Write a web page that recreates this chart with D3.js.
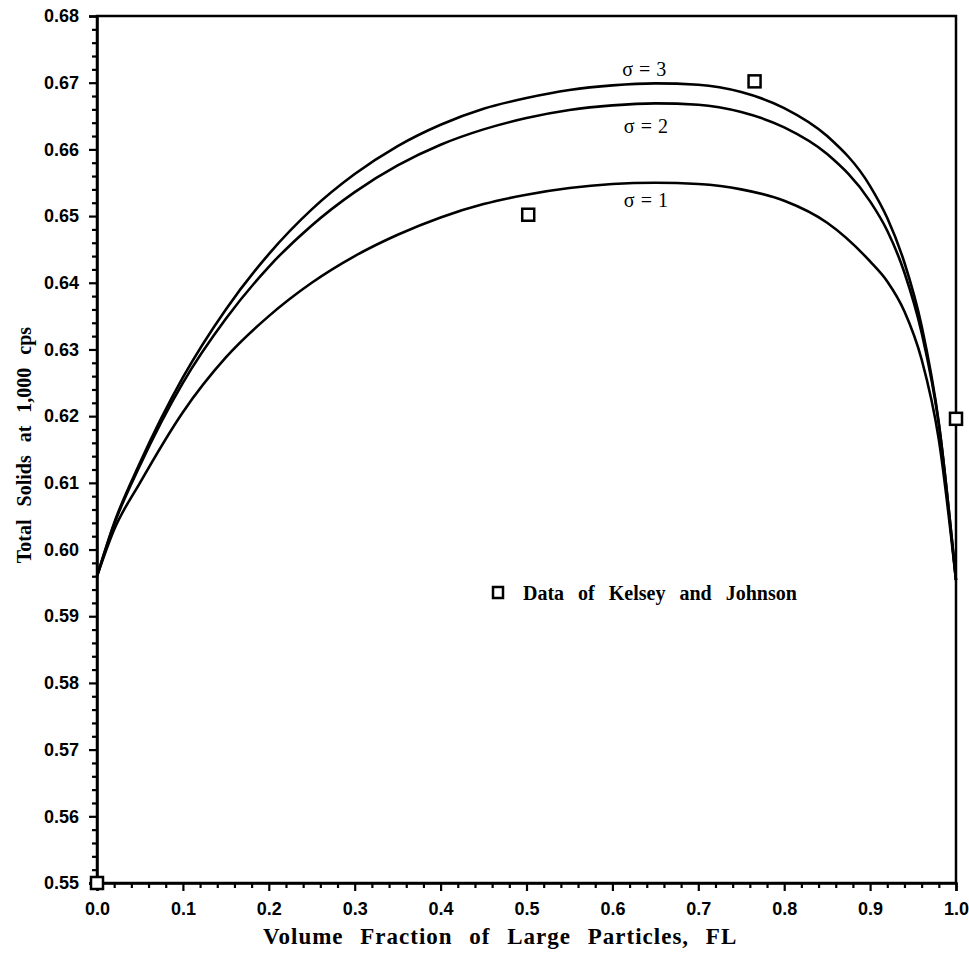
<!DOCTYPE html>
<html><head><meta charset="utf-8">
<script src="https://cdn.jsdelivr.net/npm/d3@7"></script>
<style>
body{margin:0;background:#fff;}
svg{display:block;}
</style></head>
<body><svg id="chart" width="969" height="954"></svg>
<script>
const fl = [0, 0.02, 0.05, 0.1, 0.15, 0.2, 0.25, 0.3, 0.35, 0.4, 0.45, 0.5, 0.55, 0.6, 0.65, 0.7, 0.75, 0.8, 0.85, 0.9, 0.92, 0.94, 0.96, 0.98, 1.0];
const sigma3 = [0.596, 0.6040, 0.6130, 0.6258, 0.6360, 0.6443, 0.6510, 0.6563, 0.6605, 0.6637, 0.6661, 0.6677, 0.6689, 0.6696, 0.6699, 0.6697, 0.6686, 0.6662, 0.6620, 0.6545, 0.6497, 0.6430, 0.6335, 0.6190, 0.5954];
const sigma2 = [0.596, 0.6038, 0.6126, 0.6250, 0.6346, 0.6424, 0.6486, 0.6536, 0.6576, 0.6607, 0.6630, 0.6647, 0.6659, 0.6666, 0.6669, 0.6667, 0.6656, 0.6633, 0.6593, 0.6522, 0.6478, 0.6415, 0.6325, 0.6188, 0.5954];
const sigma1 = [0.596, 0.6030, 0.6100, 0.6206, 0.6288, 0.6350, 0.6400, 0.6440, 0.6472, 0.6498, 0.6518, 0.6532, 0.6542, 0.6548, 0.6550, 0.6548, 0.6540, 0.6523, 0.6490, 0.6432, 0.6402, 0.6357, 0.6285, 0.6165, 0.5954];
const seriesLabels = ["σ = 3", "σ = 2", "σ = 1"];
const labelAt = [[0.637, 0.6710], [0.639, 0.6625], [0.639, 0.6513]];
const dataX = [0.0, 0.502, 0.7655, 1.0];
const dataY = [0.55, 0.6502, 0.6702, 0.6196];
const legendText = "Data of Kelsey and Johnson";
const xTicks = [0, 0.1, 0.2, 0.3, 0.4, 0.5, 0.6, 0.7, 0.8, 0.9, 1.0];
const yTicks = [0.55, 0.56, 0.57, 0.58, 0.59, 0.60, 0.61, 0.62, 0.63, 0.64, 0.65, 0.66, 0.67, 0.68];
const xTitle = "Volume Fraction of Large Particles, FL";
const yTitle = "Total Solids at 1,000 cps";

const svg = d3.select("#chart");
const L = 97, R = 956, T = 16, B = 883;
const x = d3.scaleLinear().domain([0, 1]).range([L, R]);
const y = d3.scaleLinear().domain([0.55, 0.68]).range([B, T]);

const xMinor = d3.range(0, 51).map(i => i * 0.02).filter(v => Math.abs(v * 10 - Math.round(v * 10)) > 1e-6);
const yMinor = d3.range(0, 66).map(i => +(0.55 + i * 0.002).toFixed(3)).filter(v => Math.abs(v * 100 - Math.round(v * 100)) > 1e-6);

svg.append("rect").attr("x", L).attr("y", T).attr("width", R - L).attr("height", B - T)
  .attr("fill", "none").attr("stroke", "#000").attr("stroke-width", 2.5);

const tickFont = "'Liberation Sans', Arial, sans-serif";
const serif = "'Liberation Serif', 'Times New Roman', serif";
const gx = svg.append("g").attr("transform", `translate(0,${B})`)
  .call(d3.axisBottom(x).tickValues(xTicks).tickFormat(d3.format(".1f")).tickSize(8).tickPadding(11));
svg.append("g").attr("transform", `translate(0,${B})`)
  .call(d3.axisBottom(x).tickValues(xMinor).tickFormat("").tickSize(5))
  .call(g => g.select(".domain").remove());
gx.select(".domain").attr("stroke-width", 2.5);
const gy = svg.append("g").attr("transform", `translate(${L},0)`)
  .call(d3.axisLeft(y).tickValues(yTicks).tickFormat(d3.format(".2f")).tickSize(8).tickPadding(10));
svg.append("g").attr("transform", `translate(${L},0)`)
  .call(d3.axisLeft(y).tickValues(yMinor).tickFormat("").tickSize(5))
  .call(g => g.select(".domain").remove());
gy.select(".domain").attr("stroke-width", 2.5);

svg.selectAll(".tick line").attr("stroke-width", 2.2);
svg.selectAll(".tick text").attr("font-family", tickFont).attr("font-size", 18)
  .attr("font-weight", "bold").attr("fill", "#000");

const line = d3.line().x(d => x(d[0])).y(d => y(d[1])).curve(d3.curveMonotoneX);
[sigma3, sigma2, sigma1].forEach(s => {
  svg.append("path").datum(fl.map((f, i) => [f, s[i]]))
    .attr("d", line).attr("fill", "none").attr("stroke", "#000").attr("stroke-width", 2.6);
});

seriesLabels.forEach((t, i) => {
  svg.append("text").attr("x", x(labelAt[i][0])).attr("y", y(labelAt[i][1]))
    .attr("text-anchor", "middle").attr("font-family", serif)
    .attr("font-size", 20).attr("word-spacing", 1).text(t);
});

const sq = 12;
svg.selectAll("rect.pt").data(dataX.map((d, i) => [d, dataY[i]])).enter().append("rect")
  .attr("class", "pt").attr("x", d => x(d[0]) - sq / 2).attr("y", d => y(d[1]) - sq / 2)
  .attr("width", sq).attr("height", sq).attr("fill", "#fff").attr("stroke", "#000").attr("stroke-width", 2.5);

const lgX = 498, lgY = 593;
svg.append("rect").attr("x", lgX - 5).attr("y", lgY - 6).attr("width", 10).attr("height", 11)
  .attr("fill", "#fff").attr("stroke", "#000").attr("stroke-width", 2.5);
svg.append("text").attr("x", 523).attr("y", 600).attr("font-family", serif)
  .attr("font-weight", "bold").attr("font-size", 20).attr("word-spacing", 9)
  .text(legendText);

svg.append("text").attr("x", 263).attr("y", 944)
  .attr("font-family", serif).attr("font-weight", "bold")
  .attr("font-size", 23).attr("word-spacing", 10).attr("letter-spacing", 1).text(xTitle);
svg.append("text").attr("transform", "translate(31,445) rotate(-90)").attr("text-anchor", "middle")
  .attr("font-family", serif).attr("font-weight", "bold")
  .attr("font-size", 20).attr("word-spacing", 8).text(yTitle);
</script></body></html>
